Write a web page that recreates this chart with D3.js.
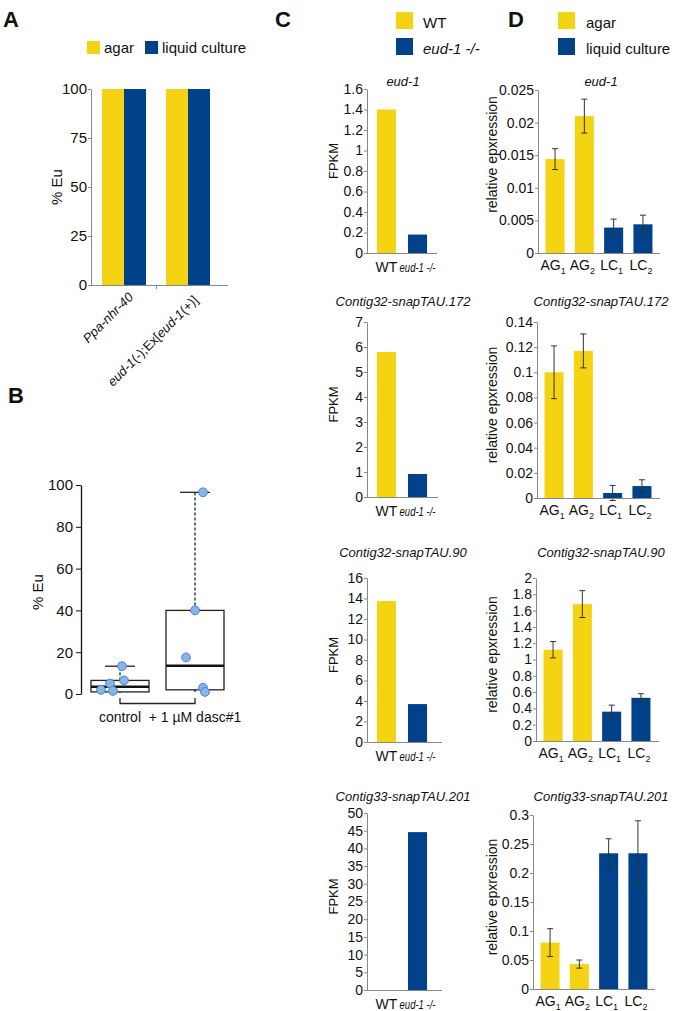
<!DOCTYPE html>
<html>
<head>
<meta charset="utf-8">
<script src="https://cdn.jsdelivr.net/npm/d3@7"></script>
<style>
  body { margin: 0; background: #fff; }
  text { font-family: "Liberation Sans", Arial, sans-serif; fill: #111; }
</style>
</head>
<body>
<svg id="fig" width="675" height="1011"></svg>
<script>
// ---- data ----
// panel A
var conditions = ["agar", "liquid culture"];
var strains = ["Ppa-nhr-40", "eud-1(-);Ex[eud-1(+)]"];
var agarEu = [100, 100];
var liquidEu = [100, 100];
var ticksA = [0, 25, 50, 75, 100];

// panel B
var boxGroups = ["control", "+ 1 \u00b5M dasc#1"];
var controlPoints = [13.3, 6.5, 5, 2, 1.5];
var dascPoints = [96.5, 40, 17.5, 3, 1];
// min, q1, median, q3, max
var controlBox = [0.5, 1, 3.5, 6.5, 13.3];
var dascBox = [1, 2, 13.5, 40, 96.5];
var ticksB = [0, 20, 40, 60, 80, 100];

// panel C
var genes = ["eud-1", "Contig32-snapTAU.172", "Contig32-snapTAU.90", "Contig33-snapTAU.201"];
var genotypes = ["WT", "eud-1 -/-"];
var fpkmWT = [1.4, 5.8, 13.75, 0];
var fpkmEud = [0.18, 0.92, 3.7, 44.6];
var fpkmMax = [1.6, 7, 16, 50];
var fpkmStep = [0.2, 1, 2, 5];

// panel D
var samples = ["AG1", "AG2", "LC1", "LC2"];
var sampleCondition = ["agar", "agar", "liquid culture", "liquid culture"];
var exprEud1 = [0.0144, 0.021, 0.0039, 0.0044];
var errEud1 = [0.0016, 0.0026, 0.0013, 0.0014];
var exprC172 = [0.1, 0.117, 0.004, 0.0095];
var errC172 = [0.021, 0.0135, 0.006, 0.005];
var exprC90 = [1.12, 1.68, 0.36, 0.53];
var errC90 = [0.1, 0.165, 0.08, 0.05];
var exprC201 = [0.08, 0.043, 0.234, 0.234];
var errC201 = [0.024, 0.007, 0.025, 0.056];
var exprMax = [0.025, 0.14, 2, 0.3];
var exprStep = [0.005, 0.02, 0.2, 0.05];

var yellow = "#f4d313";
var blue = "#00428a";
var axisGrey = "#888";

var svg = d3.select("#fig");
var color = d3.scaleOrdinal().domain(conditions).range([yellow, blue]);
var genoColor = d3.scaleOrdinal().domain(genotypes).range([yellow, blue]);

function fmt(d) { return String(+d.toFixed(5)); }
function makeTicks(max, step) {
    return d3.range(0, Math.round(max / step) + 1).map(function (i) { return +(i * step).toFixed(6); });
}
function styleAxis(g, col, size) {
    g.select(".domain").attr("stroke", col);
    g.selectAll(".tick line").attr("stroke", col);
    g.selectAll(".tick text").attr("font-size", size).attr("fill", "#111")
        .style("font-family", "'Liberation Sans', Arial, sans-serif");
}

// panel letters
[["A", 3, 27], ["B", 8, 403], ["C", 275, 27], ["D", 508, 27]].forEach(function (p) {
    svg.append("text").attr("x", p[1]).attr("y", p[2])
        .attr("font-size", 22).attr("font-weight", "bold").text(p[0]);
});

// ================= panel A =================
(function () {
    var g = svg.append("g");
    var y = d3.scaleLinear().domain([0, 100]).range([285, 89]);
    var x = d3.scaleBand().domain(strains).range([91, 221]).paddingInner(0.3125).paddingOuter(0.172);
    var xs = d3.scaleBand().domain(conditions).range([0, x.bandwidth()]);

    // legend
    conditions.forEach(function (c, i) {
        var lx = [87, 145][i];
        g.append("rect").attr("x", lx).attr("y", 41).attr("width", 13).attr("height", 13).attr("fill", color(c));
        g.append("text").attr("x", lx + 17).attr("y", 53).attr("font-size", 15).text(c);
    });

    var rows = strains.map(function (s, i) { return { strain: s, vals: [agarEu[i], liquidEu[i]] }; });
    rows.forEach(function (r) {
        g.selectAll(null).data(r.vals).enter().append("rect")
            .attr("x", function (d, j) { return x(r.strain) + xs(conditions[j]); })
            .attr("width", xs.bandwidth())
            .attr("y", function (d) { return y(d); })
            .attr("height", function (d) { return y(0) - y(d); })
            .attr("fill", function (d, j) { return color(conditions[j]); });
    });

    var ya = g.append("g").attr("transform", "translate(91,0)")
        .call(d3.axisLeft(y).tickValues(ticksA).tickSize(3).tickSizeOuter(0).tickPadding(1));
    styleAxis(ya, axisGrey, 15);

    g.append("line").attr("x1", 91).attr("x2", 228).attr("y1", 285.5).attr("y2", 285.5).attr("stroke", axisGrey);
    g.append("line").attr("x1", 156.5).attr("x2", 156.5).attr("y1", 285).attr("y2", 289).attr("stroke", axisGrey);

    g.append("text").attr("transform", "translate(62,187) rotate(-90)")
        .attr("text-anchor", "middle").attr("font-size", 15).text("% Eu");

    // x labels
    g.append("text").attr("font-size", 13).attr("text-anchor", "end")
        .attr("transform", "translate(" + (x(strains[0]) + x.bandwidth() / 2 + 10) + ",298) rotate(-45)")
        .attr("font-style", "italic").text(strains[0]);
    var lab2 = g.append("text").attr("font-size", 13).attr("text-anchor", "end")
        .attr("transform", "translate(" + (x(strains[1]) + x.bandwidth() / 2 + 11) + ",301) rotate(-45)");
    [["eud-1", "italic"], ["(-);Ex[", "normal"], ["eud-1", "italic"], ["(+)]", "normal"]].forEach(function (p) {
        lab2.append("tspan").attr("font-style", p[1]).text(p[0]);
    });
})();

// ================= panel B =================
(function () {
    var g = svg.append("g");
    var y = d3.scaleLinear().domain([0, 100]).range([694, 485]);
    var x = d3.scalePoint().domain(boxGroups).range([120, 195]);

    var ya = g.append("g").attr("transform", "translate(81,0)")
        .call(d3.axisLeft(y).tickValues(ticksB).tickSize(5).tickSizeOuter(0).tickPadding(3));
    styleAxis(ya, "#111", 15);
    ya.select(".domain").attr("stroke-width", 1.3);

    g.append("text").attr("transform", "translate(43,592) rotate(-90)")
        .attr("text-anchor", "middle").attr("font-size", 15).text("% Eu");

    var boxes = [
        { name: boxGroups[0], s: controlBox, pts: controlPoints, jit: [2, 4, -10, -19, -7] },
        { name: boxGroups[1], s: dascBox, pts: dascPoints, jit: [8, 0, -9, 8, 10] }
    ];
    var hw = 29;
    boxes.forEach(function (b) {
        var cx = x(b.name);
        // whiskers
        g.append("line").attr("x1", cx).attr("x2", cx).attr("y1", y(b.s[3])).attr("y2", y(b.s[4]))
            .attr("stroke", "#222").attr("stroke-width", 1.3).attr("stroke-dasharray", "3,2");
        g.append("line").attr("x1", cx).attr("x2", cx).attr("y1", y(b.s[0])).attr("y2", y(b.s[1]))
            .attr("stroke", "#222").attr("stroke-width", 1.3).attr("stroke-dasharray", "3,2");
        g.append("line").attr("x1", cx - 15).attr("x2", cx + 15).attr("y1", y(b.s[4])).attr("y2", y(b.s[4]))
            .attr("stroke", "#222").attr("stroke-width", 1.3);
        // box
        g.append("rect").attr("x", cx - hw).attr("width", 2 * hw)
            .attr("y", y(b.s[3])).attr("height", y(b.s[1]) - y(b.s[3]))
            .attr("fill", "none").attr("stroke", "#222").attr("stroke-width", 1.3);
        g.append("line").attr("x1", cx - hw).attr("x2", cx + hw).attr("y1", y(b.s[2])).attr("y2", y(b.s[2]))
            .attr("stroke", "#111").attr("stroke-width", 2.6);
        // points
        g.selectAll(null).data(b.pts).enter().append("circle")
            .attr("cx", function (d, i) { return cx + b.jit[i]; })
            .attr("cy", function (d) { return y(d); })
            .attr("r", 4.4)
            .attr("fill", "#85b6ea").attr("stroke", "#4f80c4").attr("stroke-width", 1);
    });

    // bracket axis
    g.append("path")
        .attr("d", "M" + x(boxGroups[0]) + ",698V703.5H" + x(boxGroups[1]) + "V698")
        .attr("fill", "none").attr("stroke", "#222").attr("stroke-width", 1.3);
    boxGroups.forEach(function (b) {
        g.append("text").attr("x", x(b)).attr("y", 722).attr("text-anchor", "middle")
            .attr("font-size", 14).text(b);
    });
})();

// ================= panel C =================
(function () {
    var g = svg.append("g");
    genotypes.forEach(function (gt, i) {
        var ly = [12, 38][i];
        g.append("rect").attr("x", 396).attr("y", ly).attr("width", 17).attr("height", 17).attr("fill", genoColor(gt));
        g.append("text").attr("x", 423).attr("y", ly + 16).attr("font-size", 15)
            .attr("font-style", i === 1 ? "italic" : "normal").text(gt);
    });

    var rowsY = [[89, 253], [322, 497], [578, 742], [813, 990]];
    var axisEnd = [437, 438, 442, 442];
    var titleY = [86, 306, 557, 801];
    genes.forEach(function (gene, i) {
        var top = rowsY[i][0], bottom = rowsY[i][1];
        var y = d3.scaleLinear().domain([0, fpkmMax[i]]).range([bottom, top]);
        var x = d3.scaleBand().domain(genotypes).range([367, 437]).paddingInner(0.387).paddingOuter(0.32);
        var vals = [fpkmWT[i], fpkmEud[i]];

        g.selectAll(null).data(vals).enter().append("rect")
            .attr("x", function (d, j) { return x(genotypes[j]); })
            .attr("width", x.bandwidth())
            .attr("y", function (d) { return y(d); })
            .attr("height", function (d) { return y(0) - y(d); })
            .attr("fill", function (d, j) { return genoColor(genotypes[j]); });

        var ya = g.append("g").attr("transform", "translate(367,0)")
            .call(d3.axisLeft(y).tickValues(makeTicks(fpkmMax[i], fpkmStep[i])).tickFormat(fmt)
                .tickSize(3).tickSizeOuter(0).tickPadding(1));
        styleAxis(ya, axisGrey, 14);
        g.append("line").attr("x1", 367).attr("x2", axisEnd[i]).attr("y1", bottom + 0.5).attr("y2", bottom + 0.5)
            .attr("stroke", axisGrey);

        g.append("text").attr("x", 403).attr("y", titleY[i]).attr("text-anchor", "middle")
            .attr("font-size", 13).attr("font-style", "italic").text(gene);
        g.append("text").attr("transform", "translate(338," + ((top + bottom) / 2 - (i === 0 ? 10 : 5)) + ") rotate(-90)")
            .attr("text-anchor", "middle").attr("font-size", 13).text("FPKM");

        g.append("text").attr("x", x(genotypes[0]) + x.bandwidth() / 2).attr("y", bottom + 19)
            .attr("text-anchor", "middle").attr("font-size", 14).text(genotypes[0]);
        g.append("text").attr("x", x(genotypes[1]) + x.bandwidth() / 2).attr("y", bottom + 19)
            .attr("text-anchor", "middle").attr("font-size", 13).attr("font-style", "italic")
            .attr("textLength", 36).attr("lengthAdjust", "spacingAndGlyphs").text(genotypes[1]);
    });
})();

// ================= panel D =================
(function () {
    var g = svg.append("g");
    conditions.forEach(function (c, i) {
        var ly = [12, 38][i];
        g.append("rect").attr("x", 558).attr("y", ly).attr("width", 17).attr("height", 17).attr("fill", color(c));
        g.append("text").attr("x", 586).attr("y", ly + 16).attr("font-size", 15).text(c);
    });

    var expr = [exprEud1, exprC172, exprC90, exprC201];
    var errs = [errEud1, errC172, errC90, errC201];
    var rowsY = [[90, 253], [322, 498], [578, 741], [815, 989]];
    var axisX = [538, 537, 536, 533];
    var axisEnd = [660, 660, 659, 655];
    var titleY = [86, 306, 557, 801];

    genes.forEach(function (gene, i) {
        var top = rowsY[i][0], bottom = rowsY[i][1], ax = axisX[i];
        var y = d3.scaleLinear().domain([0, exprMax[i]]).range([bottom, top]);
        var x = d3.scaleBand().domain(samples).range([ax, ax + 122]).paddingInner(0.35).paddingOuter(0.257);
        var data = samples.map(function (s, j) { return { s: s, v: expr[i][j], e: errs[i][j], c: sampleCondition[j] }; });

        g.selectAll(null).data(data).enter().append("rect")
            .attr("x", function (d) { return x(d.s); })
            .attr("width", x.bandwidth())
            .attr("y", function (d) { return y(d.v); })
            .attr("height", function (d) { return y(0) - y(d.v); })
            .attr("fill", function (d) { return color(d.c); });

        var eb = g.selectAll(null).data(data).enter().append("g")
            .attr("transform", function (d) { return "translate(" + (x(d.s) + x.bandwidth() / 2) + ",0)"; });
        eb.append("line").attr("y1", function (d) { return y(d.v - d.e); }).attr("y2", function (d) { return y(d.v + d.e); })
            .attr("stroke", "#333").attr("stroke-width", 1);
        eb.append("line").attr("x1", -3).attr("x2", 3)
            .attr("y1", function (d) { return y(d.v + d.e); }).attr("y2", function (d) { return y(d.v + d.e); })
            .attr("stroke", "#333");
        eb.append("line").attr("x1", -3).attr("x2", 3)
            .attr("y1", function (d) { return y(d.v - d.e); }).attr("y2", function (d) { return y(d.v - d.e); })
            .attr("stroke", "#333");

        var ya = g.append("g").attr("transform", "translate(" + ax + ",0)")
            .call(d3.axisLeft(y).tickValues(makeTicks(exprMax[i], exprStep[i])).tickFormat(fmt)
                .tickSize(3).tickSizeOuter(0).tickPadding(1));
        styleAxis(ya, axisGrey, 14);
        g.append("line").attr("x1", ax).attr("x2", axisEnd[i]).attr("y1", bottom + 0.5).attr("y2", bottom + 0.5)
            .attr("stroke", axisGrey);

        g.append("text").attr("x", 601).attr("y", titleY[i]).attr("text-anchor", "middle")
            .attr("font-size", 13).attr("font-style", "italic").text(gene);
        g.append("text").attr("transform", "translate(497," + ((top + bottom) / 2 - (i === 0 ? 17 : 5)) + ") rotate(-90)")
            .attr("text-anchor", "middle").attr("font-size", 14).text("relative epxression");

        data.forEach(function (d) {
            var t = g.append("text").attr("x", x(d.s) + x.bandwidth() / 2 - 2).attr("y", bottom + 17)
                .attr("text-anchor", "middle").attr("font-size", 14);
            t.append("tspan").text(d.s.slice(0, -1));
            t.append("tspan").attr("font-size", 9).attr("dy", 4).text(d.s.slice(-1));
        });
    });
})();
</script>
</body>
</html>
